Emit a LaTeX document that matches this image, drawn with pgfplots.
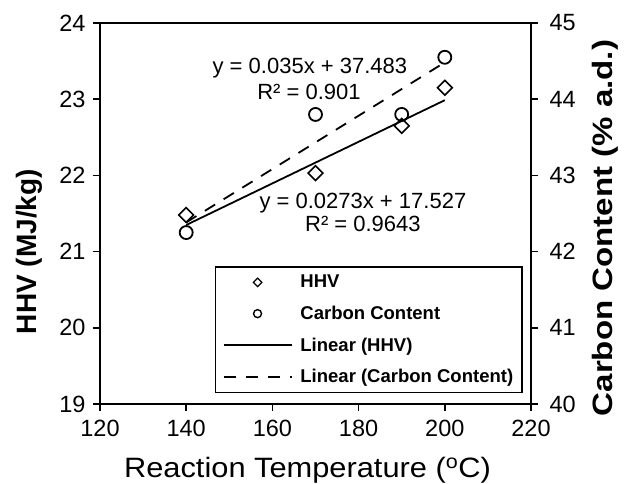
\documentclass[border=0pt]{standalone}
\usepackage{fontspec}
\setmainfont{Liberation Sans}
\usepackage{pgfplots}
\pgfplotsset{compat=1.18}
\pgfplotsset{
  markleg/.style={legend image code/.code={\draw[##1] plot coordinates {(34pt,0pt)};}},
  circleleg/.style={legend image code/.code={\draw[##1, mark size=4pt, mark options={line width=1.4pt}] plot coordinates {(34pt,0pt)};}},
  lineleg/.style={legend image code/.code={\draw[##1] (0pt,0pt) -- (68pt,0pt);}},
}
\begin{document}
\begin{tikzpicture}
\useasboundingbox (-100pt,-80pt) rectangle (524pt,404pt);
\pgfplotsset{
  every axis/.append style={
    scale only axis, width=431pt, height=381pt,
    xmin=120, xmax=220,
    tick align=outside, major tick length=7pt,
    every tick/.style={line width=1.6pt, black},
    axis line style={line width=1.6pt},
    tick label style={font=\fontsize{23.5}{26}\selectfont},
    /pgf/number format/assume math mode=true,
    label style={font=\fontsize{28}{30}\selectfont},
  }
}
\begin{axis}[
  ymin=19, ymax=24, ytick={19,20,...,24}, xtick={120,140,...,220},
  xtick pos=left, ytick pos=left,
  xticklabel style={yshift=-6pt},
  yticklabel style={xshift=-4pt},
  xlabel={\scalebox{1.1}[1]{Reaction Temperature (\textsuperscript{o}C)}},
  xlabel style={at={(axis description cs:0.4815,0)}, anchor=base, yshift=-74pt},
  ylabel={\bfseries HHV (MJ/kg)},
  ylabel style={at={(axis description cs:-0.1647,0.40)}, anchor=center},
]
\addplot[only marks, mark=square, mark size=5.2pt, mark options={rotate=45, line width=1.6pt, fill=white}] coordinates {(140,21.48)(170,22.03)(190,22.65)(200,23.15)};
\addplot[line width=1.8pt] coordinates {(140,21.349)(200,22.987)};
\node[font=\fontsize{22}{24}\selectfont] at (axis cs:168.7,23.41) {y = 0.035x + 37.483};
\node[font=\fontsize{22}{24}\selectfont] at (axis cs:168.5,23.10) {R² = 0.901};
\node[font=\fontsize{22}{24}\selectfont] at (axis cs:181,21.63) {y = 0.0273x + 17.527};
\node[font=\fontsize{22}{24}\selectfont] at (axis cs:181,21.36) {R² = 0.9643};
\end{axis}
\begin{axis}[
  ymin=40, ymax=45, ytick={40,41,...,45},
  hide x axis, axis y line*=right, ytick pos=right,
  yticklabel style={xshift=8pt},
  ylabel={\scalebox{1.18}[1]{\bfseries Carbon Content (\% a.d.)}},
  ylabel style={at={(axis description cs:1.1717,0.462)}, anchor=center},
  legend cell align=left,
  legend style={at={(0.9814,0.0286)}, anchor=south east, draw=black, line width=1.6pt,
    font=\fontsize{18.5}{20}\selectfont\bfseries, row sep=12.7pt, inner xsep=7pt, inner ysep=6pt,
    /tikz/every odd column/.append style={column sep=6pt}},
  lineleg,
]
\addlegendimage{only marks, mark=square, mark size=3pt, mark options={rotate=45, line width=1.2pt}, markleg}
\addlegendentry{HHV}
\addplot[only marks, mark=o, mark size=6.5pt, mark options={line width=1.8pt}, circleleg] coordinates {(140,42.25)(170,43.8)(190,43.8)(200,44.55)};
\addlegendentry{Carbon Content}
\addlegendimage{line width=1.8pt, lineleg}
\addlegendentry{Linear (HHV)}
\addplot[line width=1.8pt, dash pattern=on 12pt off 10pt] coordinates {(140,42.383)(200,44.483)};
\addlegendentry{Linear (Carbon Content)}
\end{axis}
\end{tikzpicture}
\end{document}
